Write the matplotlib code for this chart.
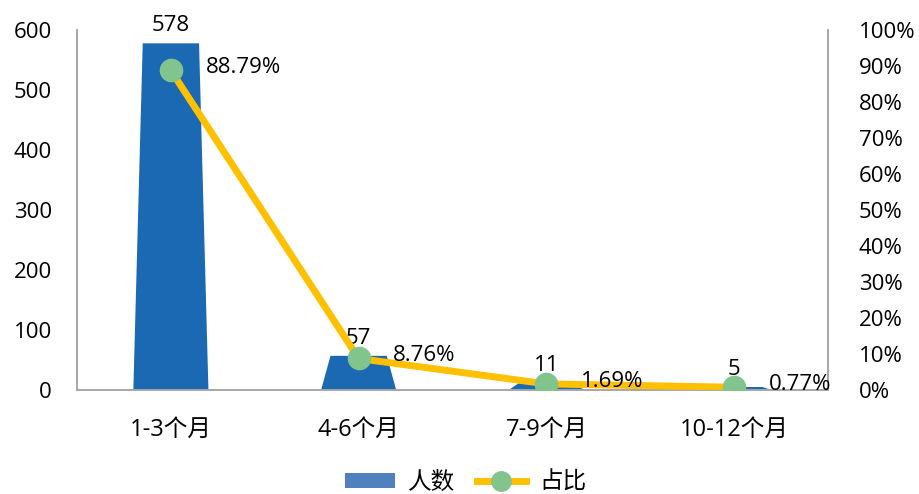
import matplotlib
matplotlib.use("Agg")
import matplotlib.pyplot as plt
from matplotlib.lines import Line2D
from matplotlib.patches import Patch
from matplotlib.ticker import FuncFormatter

plt.rcParams["font.family"] = ["Open Sans", "Noto Sans CJK SC", "DejaVu Sans"]

categories = ["1-3个月", "4-6个月", "7-9个月", "10-12个月"]
counts = [578, 57, 11, 5]
shares = [88.79, 8.76, 1.69, 0.77]
share_labels = ["88.79%", "8.76%", "1.69%", "0.77%"]

bar_color = "#1C69B3"
line_color = "#FFC000"
marker_color = "#82C48E"
spine_color = "#A6A6A6"

fig = plt.figure(figsize=(9.19, 4.94), dpi=100)
ax = fig.add_axes([0.0838, 0.2105, 0.8172, 0.7285])
ax2 = ax.twinx()

# trapezoid-shaped bars
half_bottom = 0.20
inset = 0.05
for i, v in enumerate(counts):
    xs = [i - half_bottom, i - half_bottom + inset, i + half_bottom - inset, i + half_bottom]
    ys = [0, v, v, 0]
    ax.fill(xs, ys, color=bar_color, zorder=2, linewidth=0)
    ax.annotate(str(v), (i, v), xytext=(0, 5), textcoords="offset points",
                ha="center", va="bottom", fontsize=16, color="#000000")

ax.set_xlim(-0.5, 3.5)
ax.set_ylim(0, 600)
ax.set_yticks(range(0, 601, 100))
ax.set_xticks(range(len(categories)))
ax.set_xticklabels(categories, fontsize=17)
ax.tick_params(axis="y", length=0, labelsize=16, pad=18)
ax.tick_params(axis="x", length=0, pad=20)

ax2.set_ylim(0, 100)
ax2.set_yticks(range(0, 101, 10))
ax2.yaxis.set_major_formatter(FuncFormatter(lambda v, p: f"{int(v)}%"))
ax2.tick_params(axis="y", length=0, labelsize=16, pad=22)
ax2.plot(range(len(shares)), shares, color=line_color, linewidth=5, zorder=3,
         marker="o", markersize=16, markerfacecolor=marker_color,
         markeredgecolor=marker_color)
for i, (v, lab) in enumerate(zip(shares, share_labels)):
    ax2.annotate(lab, (i, v), xytext=(25, 2), textcoords="offset points",
                 ha="left", va="center", fontsize=16, color="#000000")

for a in (ax, ax2):
    a.spines["top"].set_visible(False)
    for s in ("left", "right", "bottom"):
        a.spines[s].set_color(spine_color)
        a.spines[s].set_linewidth(1.2)
ax.set_zorder(ax2.get_zorder() - 1)
ax.patch.set_visible(False)

handles = [
    Patch(facecolor="#4F81BD", edgecolor="none"),
    Line2D([0], [0], color=line_color, linewidth=5, marker="o", markersize=14,
           markerfacecolor=marker_color, markeredgecolor=marker_color),
]
fig.legend(handles, ["人数", "占比"], loc="center", bbox_to_anchor=(0.507, 0.022),
           ncol=2, frameon=False, fontsize=17, handlelength=2.1, handleheight=0.6,
           columnspacing=0.9, handletextpad=0.55)

fig.savefig("out.png", dpi=100)
